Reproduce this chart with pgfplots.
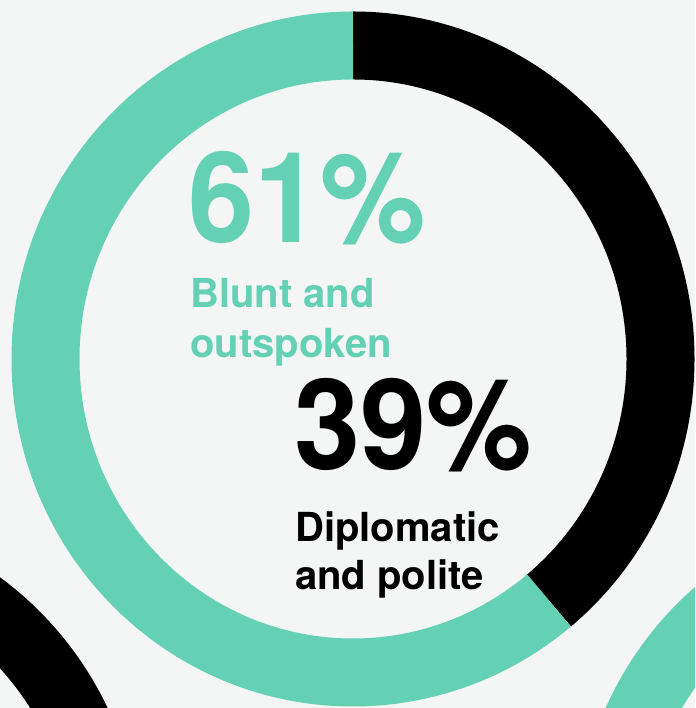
\documentclass[border=0pt]{standalone}
\usepackage{pgfplots}
\pgfplotsset{compat=1.18}
\usepackage{pgfplotstable}
\usepackage{fontspec}
\setmainfont{TeX Gyre Heros}
\definecolor{tealc}{HTML}{64D1B5}
\definecolor{bgc}{HTML}{F4F5F5}

% main donut: share of respondents (per cent), clockwise from the top
\pgfplotstableread{
label value
Diplomatic 39
Blunt 61
}\maindata
% neighbouring donuts (only partly visible): black share
\pgfplotstableread{
label value
LeftBlack 45
RightBlack 30
}\sidedata

\pgfplotstablegetelem{0}{value}\of\maindata \let\mainBlack\pgfplotsretval
\pgfplotstablegetelem{0}{value}\of\sidedata \let\leftBlack\pgfplotsretval
\pgfplotstablegetelem{1}{value}\of\sidedata \let\rightBlack\pgfplotsretval
\pgfmathsetmacro{\mainSplit}{90-3.6*\mainBlack}
\pgfmathsetmacro{\leftSplit}{90-3.6*\leftBlack}
\pgfmathsetmacro{\rightSplit}{90-3.6*\rightBlack}

\begin{document}
\begin{tikzpicture}
\begin{axis}[scale only axis, width=695pt, height=708pt,
  xmin=0, xmax=695, ymin=0, ymax=708, hide axis, clip=true]
\fill[bgc] (rel axis cs:0,0) rectangle (rel axis cs:1,1);
% main ring
\draw[line width=68pt, black] (axis cs:353,349) ++(90:307.5pt and 313.5pt)
  arc[start angle=90, end angle=\mainSplit, x radius=307.5pt, y radius=313.5pt];
\draw[line width=68pt, tealc] (axis cs:353,349) ++(90:307.5pt and 313.5pt)
  arc[start angle=90, end angle=\mainSplit+360, x radius=307.5pt, y radius=313.5pt];
% left ring
\draw[line width=68pt, black] (axis cs:-200,-151) ++(90:307.5pt and 313.5pt)
  arc[start angle=90, end angle=\leftSplit, x radius=307.5pt, y radius=313.5pt];
\draw[line width=68pt, tealc] (axis cs:-200,-151) ++(90:307.5pt and 313.5pt)
  arc[start angle=90, end angle=\leftSplit+360, x radius=307.5pt, y radius=313.5pt];
% right ring
\draw[line width=68pt, black] (axis cs:917,-143) ++(90:307.5pt and 313.5pt)
  arc[start angle=90, end angle=\rightSplit, x radius=307.5pt, y radius=313.5pt];
\draw[line width=68pt, tealc] (axis cs:917,-143) ++(90:307.5pt and 313.5pt)
  arc[start angle=90, end angle=\rightSplit+360, x radius=307.5pt, y radius=313.5pt];
% labels
\node[anchor=base west, inner sep=0pt, xscale=0.943, text=tealc, font=\bfseries\fontsize{126}{126}\selectfont] at (axis cs:188,465) {61\%};
\node[anchor=base west, inner sep=0pt, text=tealc, font=\bfseries\fontsize{40}{40}\selectfont] at (axis cs:190,400) {Blunt and};
\node[anchor=base west, inner sep=0pt, text=tealc, font=\bfseries\fontsize{40}{40}\selectfont] at (axis cs:190,350) {outspoken};
\node[anchor=base west, inner sep=0pt, xscale=0.943, text=black, font=\bfseries\fontsize{126}{126}\selectfont] at (axis cs:294,238) {39\%};
\node[anchor=base west, inner sep=0pt, text=black, font=\bfseries\fontsize{40}{40}\selectfont] at (axis cs:295,166) {Diplomatic};
\node[anchor=base west, inner sep=0pt, text=black, font=\bfseries\fontsize{40}{40}\selectfont] at (axis cs:295,118) {and polite};
\end{axis}
\end{tikzpicture}
\end{document}
